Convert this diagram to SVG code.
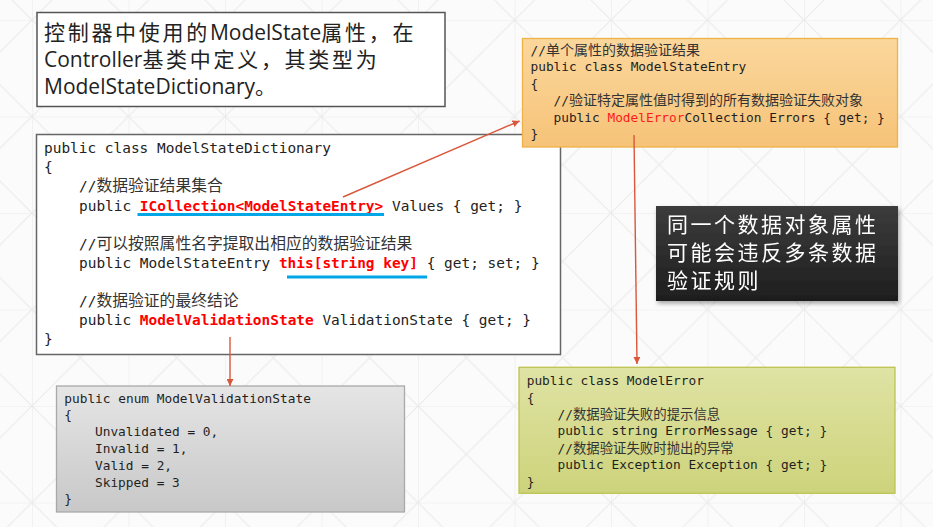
<svg xmlns="http://www.w3.org/2000/svg" width="933" height="527" viewBox="0 0 933 527">
<style>
.title{font-family:"Open Sans","Noto Sans CJK SC",sans-serif;font-size:21px;fill:#222}
.cj{letter-spacing:2.7px}
.code{font-family:"DejaVu Sans Mono","Liberation Mono","Noto Sans CJK SC",monospace;font-size:14.45px;fill:#222}
.small{font-family:"DejaVu Sans Mono","Liberation Mono","Noto Sans CJK SC",monospace;font-size:12.8px;fill:#1f1f1f}
.cmt{font-family:"Noto Sans CJK SC",sans-serif;fill:#333}
.red{fill:#ff0000;font-weight:bold}
.redn{fill:#ff1a1a}
.note{font-family:"Noto Sans CJK SC",sans-serif;font-size:21px;fill:#fff;letter-spacing:2.5px}
.conn{stroke:#d9583b;stroke-width:1.4;fill:none}
.ul{stroke:#00a6e6;stroke-width:3;fill:none}
</style>
<defs>
<pattern id="bgp" patternUnits="userSpaceOnUse" x="32" y="20" width="96.5" height="96.5">
<path d="M0 0H96.5M0 0V96.5M0 0L96.5 96.5M96.5 0L0 96.5" stroke="#ebebeb" stroke-width="1.2" fill="none"/>
</pattern>
<linearGradient id="gOr" x1="0" y1="0" x2="0" y2="1"><stop offset="0" stop-color="#fbd79c"/><stop offset="1" stop-color="#f6c378"/></linearGradient>
<linearGradient id="gGr" x1="0" y1="0" x2="0" y2="1"><stop offset="0" stop-color="#dfe3a4"/><stop offset="1" stop-color="#cdd37b"/></linearGradient>
<linearGradient id="gGy" x1="0" y1="0" x2="0" y2="1"><stop offset="0" stop-color="#e5e5e5"/><stop offset="1" stop-color="#c8c8c8"/></linearGradient>
<linearGradient id="gDk" x1="0" y1="0" x2="0" y2="1"><stop offset="0" stop-color="#3c3c3c"/><stop offset="1" stop-color="#1e1e1e"/></linearGradient>
<filter id="sh" x="-10%" y="-10%" width="130%" height="140%"><feDropShadow dx="1.5" dy="2.5" stdDeviation="2" flood-color="#000" flood-opacity="0.35"/></filter>
<marker id="ah" viewBox="0 0 10 10" refX="10" refY="5" markerWidth="7" markerHeight="7" markerUnits="userSpaceOnUse" orient="auto"><path d="M0 0L10 5L0 10z" fill="#d9583b"/></marker>
</defs>
<rect x="0" y="0" width="933" height="527" fill="#fbfbfb"/>
<rect x="0" y="0" width="933" height="527" fill="url(#bgp)"/>

<g id="node-title">
<rect x="37" y="12.5" width="408" height="94" fill="#fff" stroke="#555" stroke-width="1.5"/>
<text class="title" x="44" y="40"><tspan class="cj">控制器中使用的</tspan>ModelState<tspan class="cj">属性，在</tspan></text>
<text class="title" x="44" y="67">Controller<tspan class="cj">基类中定义，其类型为</tspan></text>
<text class="title" x="44" y="94">ModelStateDictionary<tspan class="cj">。</tspan></text>
</g>

<g id="node-dict">
<rect x="36.5" y="134.5" width="524" height="220" fill="#fff" stroke="#666" stroke-width="1.5"/>
<text class="code" x="44" y="153">public class ModelStateDictionary</text>
<text class="code" x="44" y="172">{</text>
<text class="code" x="79" y="191">//<tspan class="cmt" font-size="15.8">数据验证结果集合</tspan></text>
<text class="code" x="79" y="210.5">public <tspan class="red">ICollection&lt;ModelStateEntry&gt;</tspan> Values { get; }</text>
<text class="code" x="79" y="248.5">//<tspan class="cmt" font-size="15.8">可以按照属性名字提取出相应的数据验证结果</tspan></text>
<text class="code" x="79" y="267.5">public ModelStateEntry <tspan class="red">this[string key]</tspan> { get; set; }</text>
<text class="code" x="79" y="306">//<tspan class="cmt" font-size="15.8">数据验证的最终结论</tspan></text>
<text class="code" x="79" y="325">public <tspan class="red">ModelValidationState</tspan> ValidationState { get; }</text>
<text class="code" x="44" y="344">}</text>
<line class="ul" x1="137.5" y1="214.5" x2="384" y2="214.5"/>
<line class="ul" x1="287" y1="277" x2="427" y2="277"/>
</g>

<g id="node-entry">
<rect x="522.5" y="38.5" width="375" height="108.5" fill="url(#gOr)" stroke="#f0b248" stroke-width="1.3"/>
<text class="small" x="530.5" y="54.5">//<tspan class="cmt" font-size="14">单个属性的数据验证结果</tspan></text>
<text class="small" x="530.5" y="71.3">public class ModelStateEntry</text>
<text class="small" x="530.5" y="88">{</text>
<text class="small" x="553.5" y="104.8">//<tspan class="cmt" font-size="14">验证特定属性值时得到的所有数据验证失败对象</tspan></text>
<text class="small" x="553.5" y="121.6">public <tspan class="redn">ModelError</tspan>Collection Errors { get; }</text>
<text class="small" x="530.5" y="138.4">}</text>
</g>

<g id="node-note" filter="url(#sh)">
<rect x="656" y="206" width="242" height="95" fill="url(#gDk)"/>
<text class="note" x="667" y="232">同一个数据对象属性</text>
<text class="note" x="667" y="260">可能会违反多条数据</text>
<text class="note" x="667" y="288">验证规则</text>
</g>

<g id="node-enum">
<rect x="56.5" y="386" width="348" height="126" fill="url(#gGy)" stroke="#a9a9a9" stroke-width="1.3"/>
<text class="small" x="64.3" y="402.5">public enum ModelValidationState</text>
<text class="small" x="64.3" y="419.3">{</text>
<text class="small" x="95" y="436.1">Unvalidated = 0,</text>
<text class="small" x="95" y="452.9">Invalid = 1,</text>
<text class="small" x="95" y="469.7">Valid = 2,</text>
<text class="small" x="95" y="486.5">Skipped = 3</text>
<text class="small" x="64.3" y="503.3">}</text>
</g>

<g id="node-error">
<rect x="519" y="367.3" width="376" height="126" fill="url(#gGr)" stroke="#bdc450" stroke-width="1.3"/>
<text class="small" x="526.7" y="385">public class ModelError</text>
<text class="small" x="526.7" y="401.8">{</text>
<text class="small" x="557.5" y="418.6">//<tspan class="cmt" font-size="13.4">数据验证失败的提示信息</tspan></text>
<text class="small" x="557.5" y="435.4">public string ErrorMessage { get; }</text>
<text class="small" x="557.5" y="452.6">//<tspan class="cmt" font-size="13.4">数据验证失败时抛出的异常</tspan></text>
<text class="small" x="557.5" y="469">public Exception Exception { get; }</text>
<text class="small" x="526.7" y="485.8">}</text>
</g>

<g id="connectors">
<line class="conn" x1="343" y1="197" x2="519.5" y2="121" marker-end="url(#ah)"/>
<line class="conn" x1="230" y1="337" x2="230" y2="386" marker-end="url(#ah)"/>
<line class="conn" x1="634" y1="135" x2="637" y2="364" marker-end="url(#ah)"/>
</g>
</svg>
